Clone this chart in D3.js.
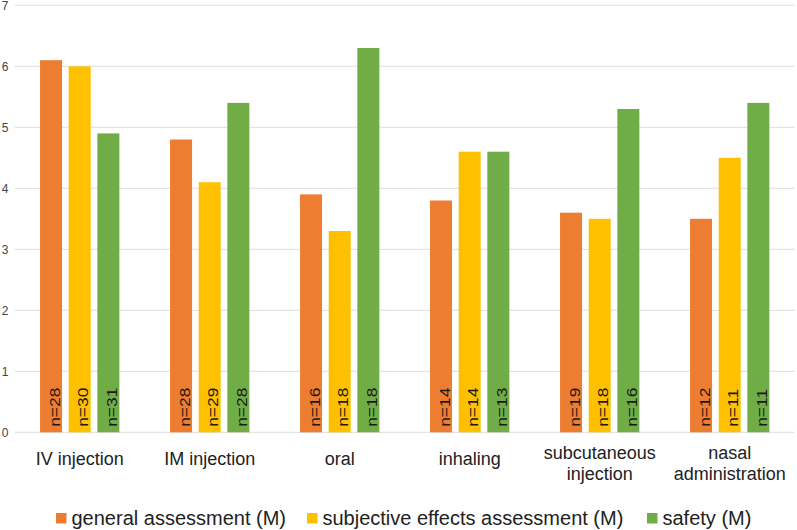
<!DOCTYPE html>
<html><head><meta charset="utf-8">
<script src="https://cdn.jsdelivr.net/npm/d3@7"></script>
<style>body{margin:0;background:#fff;font-family:"Liberation Sans",Arial,sans-serif;}</style>
</head><body>
<svg id="c" width="797" height="530"></svg>
<script>
const categories = [["IV injection"],["IM injection"],["oral"],["inhaling"],["subcutaneous","injection"],["nasal","administration"]];
const seriesNames = ["general assessment (M)","subjective effects assessment (M)","safety (M)"];
const general = [6.1,4.8,3.9,3.8,3.6,3.5];
const subjective = [6.0,4.1,3.3,4.6,3.5,4.5];
const safety = [4.9,5.4,6.3,4.6,5.3,5.4];
const nGeneral = [28,28,16,14,19,12];
const nSubjective = [30,29,18,14,18,11];
const nSafety = [31,28,18,13,16,11];
const yTicks = [0,1,2,3,4,5,6,7];
const colors = ["#ED7D31","#FFC000","#70AD47"];

(function(){
const series = [general, subjective, safety];
const ns = [nGeneral, nSubjective, nSafety];
const svg = d3.select("#c");
const mLeft = 14.7, mRight = 794.7, mTop = 5.3, mBottom = 432.3;
const x = d3.scaleBand().domain(d3.range(categories.length)).range([mLeft,mRight]);
const y = d3.scaleLinear().domain([0,7]).range([mBottom,mTop]);
const x1 = d3.scaleBand().domain([0,1,2]).range([x.bandwidth()/2-39.65, x.bandwidth()/2+39.65]).paddingInner(0.232);

svg.append("g").selectAll("line").data(yTicks).join("line")
  .attr("x1",mLeft).attr("x2",mRight).attr("y1",d=>y(d)).attr("y2",d=>y(d))
  .attr("stroke","#e4e4e4").attr("stroke-width",1.3);
svg.append("g").selectAll("text").data(yTicks).join("text")
  .attr("x",5).attr("y",d=>y(d)+4.3).attr("text-anchor","middle")
  .attr("font-size",12).attr("fill","#444").text(d=>d);

const g = svg.append("g");
series.forEach((s,si)=>{
  const gg = g.append("g");
  gg.selectAll("rect").data(s).join("rect")
    .attr("x",(d,i)=>x(i)+x1(si)).attr("width",x1.bandwidth())
    .attr("y",d=>y(d)).attr("height",d=>y(0)-y(d))
    .attr("fill",colors[si]);
  gg.selectAll("text").data(ns[si]).join("text")
    .attr("transform",(d,i)=>`translate(${x(i)+x1(si)+x1.bandwidth()/2+8.5},${y(0)-5.5}) rotate(-90) scale(1.2,1)`)
    .attr("font-size",14.5).attr("fill","#1a1a1a").text(d=>"n="+d);
});

categories.forEach((c,i)=>{
  const t = svg.append("text").attr("text-anchor","middle").attr("font-size",18).attr("fill","#222");
  const cx = x(i)+x.bandwidth()/2;
  if(c.length===1){
    t.append("tspan").attr("x",cx).attr("y",465).text(c[0]);
  } else {
    t.append("tspan").attr("x",cx).attr("y",459).text(c[0]);
    t.append("tspan").attr("x",cx).attr("y",480).text(c[1]);
  }
});

const legX = [56,307,647];
seriesNames.forEach((n,i)=>{
  svg.append("rect").attr("x",legX[i]).attr("y",513).attr("width",10.5).attr("height",10.5).attr("fill",colors[i]);
  svg.append("text").attr("x",legX[i]+15.5).attr("y",525).attr("font-size",20).attr("fill","#222").text(n);
});
})();
</script>
</body></html>
